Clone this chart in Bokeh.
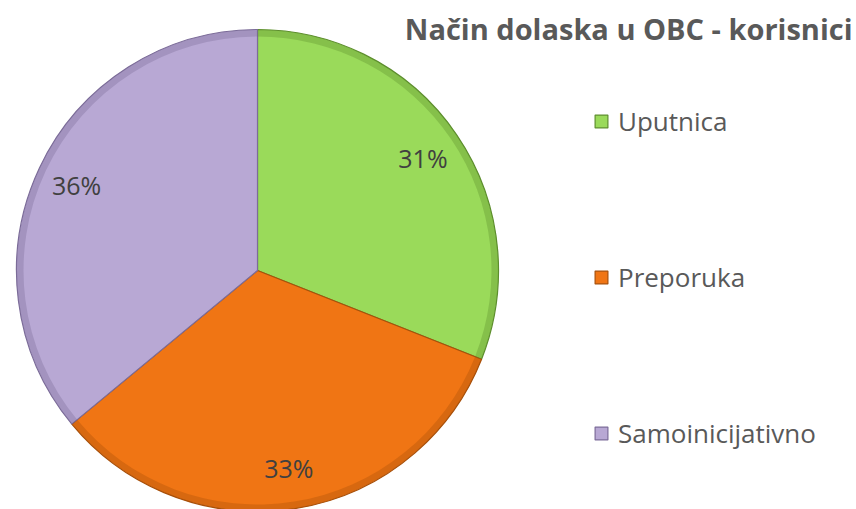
import math
from bokeh.plotting import figure
from bokeh.models import ColumnDataSource, Range1d, Label, Legend, LegendItem
from bokeh.core.properties import value
from bokeh.embed import file_html
from bokeh.resources import INLINE

# ---- data ----
categories = ["Uputnica", "Preporuka", "Samoinicijativno"]
shares = [31, 33, 36]
colors = ["#9ADA5A", "#F07514", "#B8A8D4"]
edge_colors = ["#5E8F2E", "#A8500A", "#7C6C99"]
title_text = "Način dolaska u OBC - korisnici"

W, H = 856, 509
CX, CY, R = 257, 239, 241

total = sum(shares)
starts, ends, lx, ly, labels = [], [], [], [], []
a = math.pi / 2
for s in shares:
    sweep = 2 * math.pi * s / total
    starts.append(a)
    ends.append(a - sweep)
    mid = a - sweep / 2
    lx.append(CX + 0.83 * R * math.cos(mid))
    ly.append(CY + 0.83 * R * math.sin(mid))
    labels.append(f"{round(100 * s / total)}%")
    a -= sweep

src = ColumnDataSource(dict(cat=categories, start=starts, end=ends, color=colors,
                            edge=edge_colors, x=[CX] * 3, y=[CY] * 3))
lsrc = ColumnDataSource(dict(x=lx, y=ly, text=labels))

p = figure(width=W, height=H, output_backend="svg", toolbar_location=None,
           x_range=Range1d(0, W), y_range=Range1d(0, H), min_border=0)
p.axis.visible = False
p.grid.visible = False
p.outline_line_color = None
p.background_fill_color = "white"

wr = p.wedge(x="x", y="y", radius=R, start_angle="start", end_angle="end",
             direction="clock", fill_color="color", line_color="edge",
             line_width=1.2, source=src)
# bevel rim
p.annular_wedge(x="x", y="y", inner_radius=R - 7, outer_radius=R,
                start_angle="start", end_angle="end", direction="clock",
                fill_color="edge", fill_alpha=0.35, line_color=None, source=src)

p.text(x="x", y="y", text="text", source=lsrc, text_align="center",
       text_baseline="middle", text_font=value("Open Sans"),
       text_font_size="25px", text_color="#404040")

legend = Legend(items=[LegendItem(label=c, renderers=[wr], index=i)
                       for i, c in enumerate(categories)],
                location=(593, 58), orientation="vertical",
                label_text_font="Open Sans", label_text_font_size="26px",
                label_text_color="#595959", glyph_width=16, glyph_height=16,
                label_height=30, spacing=120, label_standoff=9, padding=0,
                margin=0, border_line_color=None, background_fill_alpha=0)
p.add_layout(legend)

p.add_layout(Label(x=852, y=H - 28, x_units="screen", y_units="screen",
                   text=title_text, text_align="right", text_baseline="middle",
                   text_font="Open Sans", text_font_style="bold",
                   text_font_size="29px", text_color="#595959"))

open("out.html", "w").write(file_html(p, INLINE))
